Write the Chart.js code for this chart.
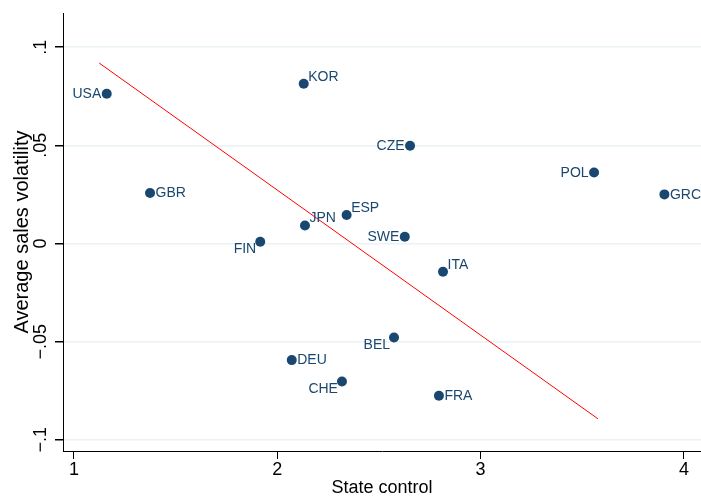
<!DOCTYPE html>
<html>
<head>
<meta charset="utf-8">
<script src="https://cdn.jsdelivr.net/npm/chart.js@4"></script>
<style>
  html, body { margin: 0; padding: 0; background: #fff; }
  #wrap { width: 701px; height: 497px; }
</style>
</head>
<body>
<div id="wrap"><canvas id="chart" width="701" height="497"></canvas></div>
<script>
// country codes, state control (x) and average sales volatility (y)
const countries = ['USA', 'KOR', 'CZE', 'POL', 'GRC', 'GBR', 'ESP', 'JPN', 'SWE', 'FIN', 'ITA', 'BEL', 'DEU', 'CHE', 'FRA'];
const stateControl = [1.161, 2.130, 2.653, 3.558, 3.904, 1.374, 2.341, 2.136, 2.627, 1.916, 2.815, 2.574, 2.071, 2.318, 2.795];
const salesVolatility = [0.0763, 0.0814, 0.0498, 0.0362, 0.0250, 0.0257, 0.0145, 0.0092, 0.0034, 0.0009, -0.0144, -0.0479, -0.0594, -0.0703, -0.0776];
// where each label sits relative to its marker
const labelSide = ['l', 'ur', 'l', 'l', 'r', 'r', 'ur', 'ur', 'l', 'll', 'ur', 'll', 'r', 'll', 'r'];

// fitted line end points
const fitX = [1.124, 3.577];
const fitY = [0.0919, -0.0893];

const xTicks = [1, 2, 3, 4];
const yTicks = [-0.1, -0.05, 0, 0.05, 0.1];

const navy = '#1a476f';
const font = "'Liberation Sans', Arial, Helvetica, sans-serif";

function fmt(v) {
  if (Math.abs(v) < 1e-9) return '0';
  let s = String(Math.abs(+v.toFixed(3))).replace(/^0\./, '.');
  return (v < 0 ? '\u2212' : '') + s;
}

const pointLabels = {
  id: 'pointLabels',
  afterDatasetsDraw(chart) {
    const ctx = chart.ctx;
    const meta = chart.getDatasetMeta(0);
    ctx.save();
    ctx.font = '14px ' + font;
    ctx.fillStyle = navy;
    ctx.textBaseline = 'middle';
    meta.data.forEach((pt, i) => {
      const side = labelSide[i];
      let x = pt.x, y = pt.y;
      if (side === 'r') { ctx.textAlign = 'left'; x += 5.5; y += 0.5; }
      else if (side === 'l') { ctx.textAlign = 'right'; x -= 5.5; y += 0.5; }
      else if (side === 'ur') { ctx.textAlign = 'left'; x += 4.5; y -= 7; }
      else if (side === 'll') { ctx.textAlign = 'right'; x -= 4; y += 7.5; }
      ctx.fillText(countries[i], x, y);
    });
    ctx.restore();
  }
};

new Chart(document.getElementById('chart'), {
  type: 'scatter',
  data: {
    datasets: [
      {
        data: stateControl.map((x, i) => ({ x: x, y: salesVolatility[i] })),
        backgroundColor: navy,
        borderColor: navy,
        pointRadius: 5,
        pointBorderWidth: 0,
        showLine: false
      },
      {
        data: fitX.map((x, i) => ({ x: x, y: fitY[i] })),
        showLine: true,
        borderColor: '#ff0000',
        borderWidth: 1,
        pointRadius: 0,
        fill: false
      }
    ]
  },
  options: {
    responsive: false,
    animation: false,
    layout: { autoPadding: false, padding: { top: 13, right: 0, left: 0, bottom: 0 } },
    plugins: { legend: { display: false }, tooltip: { enabled: false } },
    scales: {
      x: {
        type: 'linear',
        min: 0.9459,
        max: 4.084,
        afterBuildTicks: s => { s.ticks = xTicks.map(v => ({ value: v })); },
        afterFit: s => { s.height = 46; s.paddingLeft = 0; s.paddingRight = 0; },
        border: { color: '#000', width: 1 },
        grid: { drawOnChartArea: false, drawTicks: true, tickLength: 8, tickColor: '#000' },
        ticks: { color: '#000', font: { family: font, size: 18 }, padding: 0, maxRotation: 0 },
        title: { display: true, text: 'State control', color: '#000', font: { family: font, size: 18, lineHeight: 1.0 }, padding: { top: 0, bottom: 0 } }
      },
      y: {
        type: 'linear',
        min: -0.1057,
        max: 0.1174,
        afterBuildTicks: s => { s.ticks = yTicks.map(v => ({ value: v })); },
        afterFit: s => { s.width = 63; s.paddingTop = 0; s.paddingBottom = 0; },
        border: { color: '#000', width: 1 },
        grid: { color: '#eaf2f3', lineWidth: 1.5, drawTicks: true, tickLength: 8, tickColor: '#000' },
        ticks: {
          color: '#000', font: { family: font, size: 18 }, padding: -4,
          minRotation: 90, maxRotation: 90, crossAlign: 'center',
          callback: v => fmt(v)
        },
        title: { display: true, text: 'Average sales volatility', color: '#000', font: { family: font, size: 20 }, padding: { top: 10, bottom: 0 } }
      }
    }
  },
  plugins: [pointLabels]
});
</script>
</body>
</html>
